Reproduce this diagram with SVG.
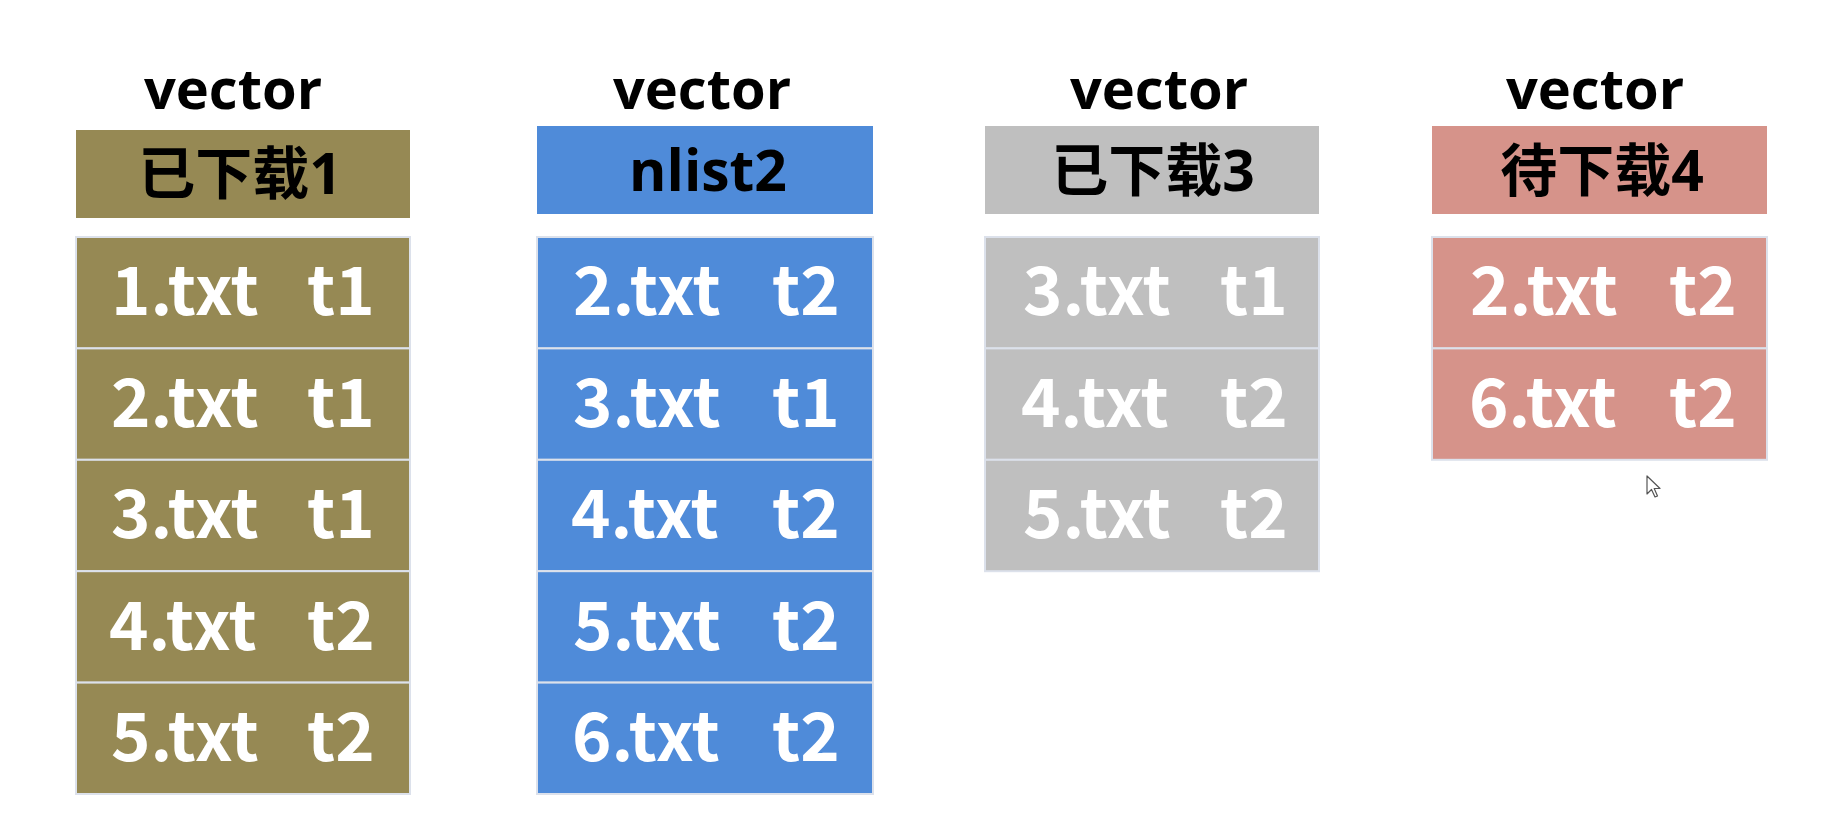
<svg xmlns="http://www.w3.org/2000/svg" width="1841" height="821" viewBox="0 0 1841 821">
<style>
  .title { font-family: "Open Sans", "Noto Sans", sans-serif; font-weight: 700; font-size: 56px; fill: #000; text-anchor: middle; }
  .head { font-family: "Open Sans", "Noto Sans CJK SC", sans-serif; font-weight: 700; font-size: 57px; fill: #000; text-anchor: middle; }
  .cell { stroke: #DCE1EB; stroke-width: 2; }
  .ct { font-family: "Noto Sans CJK SC", "Open Sans", sans-serif; font-weight: 700; font-size: 67px; fill: #FFFFFF; }
  .c1 { fill: #968954; }
  .c2 { fill: #4F8BD9; }
  .c3 { fill: #BFBFBF; }
  .c4 { fill: #D6938A; }
</style>
<rect width="1841" height="821" fill="#FFFFFF"/>

<g id="vector1">
  <text class="title" x="233" y="109">vector</text>
  <rect class="c1" x="76" y="130" width="334" height="88"/>
  <text class="head" x="240" y="194">已下载1</text>
  <rect class="c1 cell" x="76" y="237" width="334" height="111.4"/>
  <rect class="c1 cell" x="76" y="348.4" width="334" height="111.4"/>
  <rect class="c1 cell" x="76" y="459.8" width="334" height="111.4"/>
  <rect class="c1 cell" x="76" y="571.2" width="334" height="111.4"/>
  <rect class="c1 cell" x="76" y="682.6" width="334" height="111.4"/>
  <text class="ct" x="111" y="315">1.txt</text><text class="ct" x="307" y="315">t1</text>
  <text class="ct" x="111" y="426.5">2.txt</text><text class="ct" x="307" y="426.5">t1</text>
  <text class="ct" x="111" y="538">3.txt</text><text class="ct" x="307" y="538">t1</text>
  <text class="ct" x="109" y="649.5">4.txt</text><text class="ct" x="307" y="649.5">t2</text>
  <text class="ct" x="111" y="761">5.txt</text><text class="ct" x="307" y="761">t2</text>
</g>

<g id="vector2">
  <text class="title" x="702" y="109">vector</text>
  <rect class="c2" x="537" y="126" width="336" height="88"/>
  <text class="head" x="708" y="191">nlist2</text>
  <rect class="c2 cell" x="537" y="237" width="336" height="111.4"/>
  <rect class="c2 cell" x="537" y="348.4" width="336" height="111.4"/>
  <rect class="c2 cell" x="537" y="459.8" width="336" height="111.4"/>
  <rect class="c2 cell" x="537" y="571.2" width="336" height="111.4"/>
  <rect class="c2 cell" x="537" y="682.6" width="336" height="111.4"/>
  <text class="ct" x="573" y="315">2.txt</text><text class="ct" x="772" y="315">t2</text>
  <text class="ct" x="573" y="426.5">3.txt</text><text class="ct" x="772" y="426.5">t1</text>
  <text class="ct" x="571" y="538">4.txt</text><text class="ct" x="772" y="538">t2</text>
  <text class="ct" x="573" y="649.5">5.txt</text><text class="ct" x="772" y="649.5">t2</text>
  <text class="ct" x="572" y="761">6.txt</text><text class="ct" x="772" y="761">t2</text>
</g>

<g id="vector3">
  <text class="title" x="1159" y="109">vector</text>
  <rect class="c3" x="985" y="126" width="334" height="88"/>
  <text class="head" x="1153" y="191">已下载3</text>
  <rect class="c3 cell" x="985" y="237" width="334" height="111.4"/>
  <rect class="c3 cell" x="985" y="348.4" width="334" height="111.4"/>
  <rect class="c3 cell" x="985" y="459.8" width="334" height="111.4"/>
  <text class="ct" x="1023" y="315">3.txt</text><text class="ct" x="1220" y="315">t1</text>
  <text class="ct" x="1021" y="426.5">4.txt</text><text class="ct" x="1220" y="426.5">t2</text>
  <text class="ct" x="1023" y="538">5.txt</text><text class="ct" x="1220" y="538">t2</text>
</g>

<g id="vector4">
  <text class="title" x="1595" y="109">vector</text>
  <rect class="c4" x="1432" y="126" width="335" height="88"/>
  <text class="head" x="1602" y="191">待下载4</text>
  <rect class="c4 cell" x="1432" y="237" width="335" height="111.4"/>
  <rect class="c4 cell" x="1432" y="348.4" width="335" height="111.4"/>
  <text class="ct" x="1470" y="315">2.txt</text><text class="ct" x="1669" y="315">t2</text>
  <text class="ct" x="1469" y="426.5">6.txt</text><text class="ct" x="1669" y="426.5">t2</text>
</g>

<g id="connectors"></g>

<path d="M1647,476 L1647,494 L1651.5,489.5 L1655,497 L1657.5,496 L1654.2,488.5 L1660,488.5 Z" fill="#FFFFFF" stroke="#555555" stroke-width="1.2" stroke-linejoin="round"/>
</svg>
